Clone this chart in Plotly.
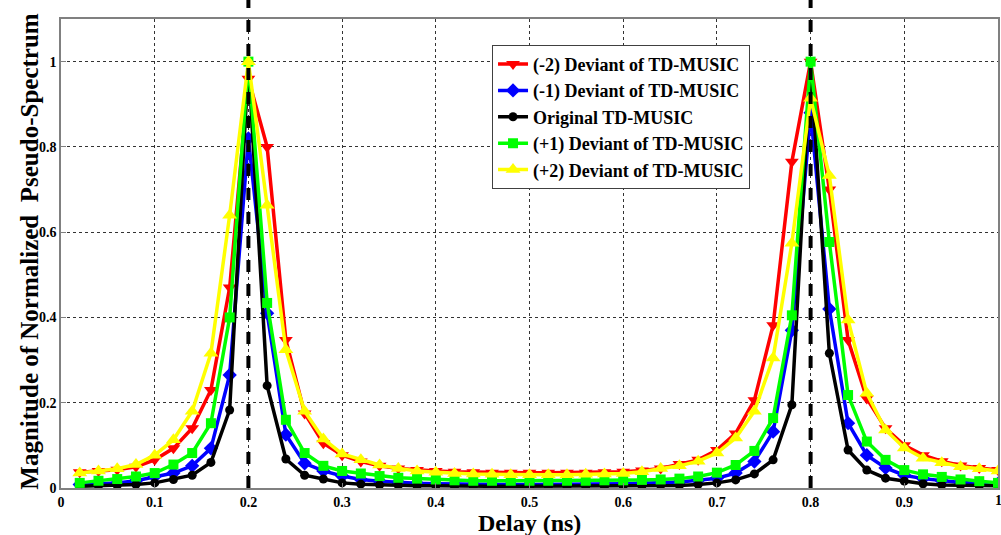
import plotly.graph_objects as go

delay = [0.02, 0.04, 0.06, 0.08, 0.10, 0.12, 0.14, 0.16, 0.18, 0.20,
         0.22, 0.24, 0.26, 0.28, 0.30, 0.32, 0.34, 0.36, 0.38, 0.40,
         0.42, 0.44, 0.46, 0.48, 0.50, 0.52, 0.54, 0.56, 0.58, 0.60,
         0.62, 0.64, 0.66, 0.68, 0.70, 0.72, 0.74, 0.76, 0.78, 0.80,
         0.82, 0.84, 0.86, 0.88, 0.90, 0.92, 0.94, 0.96, 0.98, 1.00]

minus2 = [0.037, 0.040, 0.043, 0.050, 0.066, 0.093, 0.140, 0.230, 0.470, 0.960,
          0.800, 0.347, 0.175, 0.105, 0.077, 0.062, 0.052, 0.046, 0.042, 0.040,
          0.038, 0.037, 0.036, 0.036, 0.036, 0.036, 0.036, 0.036, 0.037, 0.038,
          0.041, 0.046, 0.056, 0.066, 0.089, 0.128, 0.206, 0.382, 0.765, 1.000,
          0.700, 0.347, 0.210, 0.140, 0.100, 0.077, 0.063, 0.053, 0.047, 0.042]

minus1 = [0.008, 0.010, 0.012, 0.017, 0.027, 0.035, 0.052, 0.093, 0.265, 0.820,
          0.410, 0.125, 0.058, 0.040, 0.028, 0.020, 0.016, 0.013, 0.011, 0.010,
          0.009, 0.009, 0.008, 0.008, 0.008, 0.008, 0.008, 0.009, 0.009, 0.010,
          0.011, 0.012, 0.014, 0.018, 0.023, 0.035, 0.062, 0.132, 0.370, 0.880,
          0.420, 0.152, 0.077, 0.047, 0.030, 0.022, 0.017, 0.013, 0.011, 0.010]

original = [0.004, 0.005, 0.006, 0.008, 0.012, 0.020, 0.030, 0.060, 0.183, 1.000,
            0.240, 0.068, 0.030, 0.021, 0.012, 0.009, 0.007, 0.006, 0.005, 0.005,
            0.004, 0.004, 0.004, 0.004, 0.004, 0.004, 0.004, 0.004, 0.004, 0.005,
            0.005, 0.006, 0.006, 0.008, 0.012, 0.019, 0.033, 0.066, 0.195, 1.000,
            0.316, 0.089, 0.042, 0.023, 0.016, 0.010, 0.007, 0.006, 0.005, 0.005]

plus1 = [0.012, 0.017, 0.021, 0.027, 0.035, 0.055, 0.082, 0.152, 0.400, 1.000,
         0.434, 0.160, 0.082, 0.052, 0.040, 0.034, 0.028, 0.024, 0.022, 0.020,
         0.018, 0.017, 0.017, 0.017, 0.017, 0.017, 0.017, 0.017, 0.018, 0.018,
         0.019, 0.020, 0.022, 0.027, 0.036, 0.054, 0.087, 0.164, 0.405, 1.000,
         0.577, 0.218, 0.109, 0.066, 0.042, 0.032, 0.026, 0.020, 0.016, 0.012]

plus2 = [0.035, 0.040, 0.045, 0.055, 0.077, 0.113, 0.180, 0.316, 0.640, 1.000,
         0.663, 0.324, 0.180, 0.115, 0.080, 0.066, 0.054, 0.046, 0.040, 0.037,
         0.034, 0.033, 0.032, 0.031, 0.031, 0.031, 0.031, 0.032, 0.033, 0.034,
         0.038, 0.046, 0.052, 0.063, 0.082, 0.117, 0.180, 0.305, 0.574, 0.914,
         0.733, 0.394, 0.222, 0.136, 0.094, 0.070, 0.059, 0.050, 0.045, 0.040]

peaks = [0.2, 0.8]
x_ticks = [0, 0.1, 0.2, 0.3, 0.4, 0.5, 0.6, 0.7, 0.8, 0.9]
x_ticktext = ["0", "0.1", "0.2", "0.3", "0.4", "0.5", "0.6", "0.7", "0.8", "0.9"]
x_last_tick = 1.0
x_last_text = "1"
y_ticks = [0, 0.2, 0.4, 0.6, 0.8, 1.0]
y_ticktext = ["0", "0.2", "0.4", "0.6", "0.8", "1"]
x_title = "Delay (ns)"
y_title = "Magnitude of Normalized  Pseudo-Spectrum"

series = [
    ("(-2) Deviant of TD-MUSIC", minus2, "#FF0000", "triangle-down", 12),
    ("(-1) Deviant of TD-MUSIC", minus1, "#0000FF", "diamond", 11),
    ("Original TD-MUSIC", original, "#000000", "circle", 9),
    ("(+1) Deviant of TD-MUSIC", plus1, "#00FF00", "square", 10),
    ("(+2) Deviant of TD-MUSIC", plus2, "#FFFF00", "triangle-up", 13),
]

font_family = "Liberation Serif"
tick_font = dict(family=font_family, size=14, color="black", weight="bold")
title_font = dict(family=font_family, size=25, color="black", weight="bold")
xtitle_font = dict(family=font_family, size=24, color="black", weight="bold")

fig = go.Figure()
for name, vals, color, sym, size in series:
    fig.add_trace(go.Scatter(
        x=delay, y=vals, name=name, mode="lines+markers",
        line=dict(color=color, width=3.5),
        marker=dict(symbol=sym, size=size, color=color, line=dict(width=0)),
    ))

for p in peaks:
    fig.add_shape(type="line", xref="x", yref="paper", x0=p, x1=p, y0=0, y1=1.045,
                  line=dict(color="black", width=4, dash="dash"), layer="above")

# last x tick label sits on the figure edge
fig.add_annotation(x=x_last_tick, y=0, xref="x", yref="paper", text=x_last_text,
                   showarrow=False, yanchor="top", yshift=-3, font=tick_font)

# axis titles placed freely, close to tick labels as in the original
fig.add_annotation(x=-0.033, y=0.504, xref="paper", yref="paper", text=y_title,
                   textangle=-90, showarrow=False, xanchor="center", yanchor="middle",
                   font=title_font)
fig.add_annotation(x=0.5, y=0, xref="paper", yref="paper", text=x_title,
                   showarrow=False, xanchor="center", yanchor="top", yshift=-20,
                   font=xtitle_font)

axis_common = dict(
    showline=True, linecolor="#808080", linewidth=1.5, mirror=True,
    ticks="inside", ticklen=5, tickcolor="#808080",
    showgrid=True, gridcolor="#333333", gridwidth=1, griddash="dot",
    zeroline=False,
    tickfont=tick_font,
)

fig.update_layout(
    width=1001, height=535,
    margin=dict(l=61, r=1, t=19, b=47),
    paper_bgcolor="white", plot_bgcolor="white",
    showlegend=True,
    legend=dict(
        x=0.46, y=0.945, xanchor="left", yanchor="top",
        bgcolor="white", bordercolor="#404040", borderwidth=1,
        font=dict(family=font_family, size=18, color="black", weight="bold"),
        tracegroupgap=0, itemwidth=30,
    ),
    xaxis=dict(
        range=[0, 1], tickvals=x_ticks, ticktext=x_ticktext,
        **axis_common,
    ),
    yaxis=dict(
        range=[0, 1.1], tickvals=y_ticks, ticktext=y_ticktext,
        **axis_common,
    ),
)

fig.write_html("out.html")
